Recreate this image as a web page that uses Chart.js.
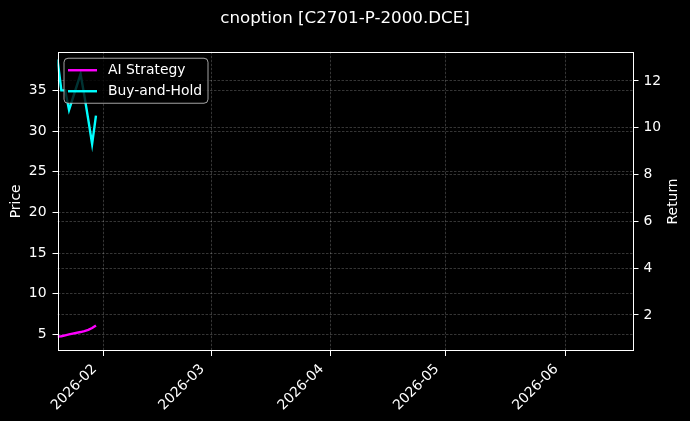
<!DOCTYPE html>
<html>
<head>
<meta charset="utf-8">
<title>cnoption</title>
<script src="https://cdn.jsdelivr.net/npm/chart.js@4.4.1/dist/chart.umd.min.js"></script>
<style>
  html, body { margin: 0; padding: 0; background: #000; }
  canvas { display: block; }
</style>
</head>
<body>
<canvas id="chart" width="690" height="421"></canvas>
<script>
// values
var dates = ["2026-01-20", "2026-01-21", "2026-01-22", "2026-01-23", "2026-01-26",
             "2026-01-27", "2026-01-28", "2026-01-29", "2026-01-30"];
var aiStrategy = [1.08, 1.09, 1.13, 1.17, 1.27, 1.31, 1.36, 1.44, 1.55];
var buyAndHold = [38.8, 35.0, 35.0, 32.6, 37.0, 34.3, 31.4, 28.4, 31.9];
var monthTicks = ["2026-02", "2026-03", "2026-04", "2026-05", "2026-06"];
var priceTicks = [5, 10, 15, 20, 25, 30, 35];
var returnTicks = [2, 4, 6, 8, 10, 12];
var xRange = ["2026-01-20", "2026-06-18"];
var priceRange = [2.95, 39.75];
var returnRange = [0.46, 13.25];

function day(s) {
	return Date.parse(s + "T00:00:00Z") / 86400000;
}

function points(vals) {
	return vals.map(function (v, i) { return { x: day(dates[i]), y: v }; });
}

var FONT = "'DejaVu Sans', sans-serif";
var GRID = "rgba(255,255,255,0.3)";

Chart.defaults.font.family = FONT;
Chart.defaults.font.size = 13.9;
Chart.defaults.color = "#ffffff";

// top spine, legend box and right axis label
var decor = {
	id: "decor",
	afterDatasetsDraw: function (chart) {
		var ctx = chart.ctx, a = chart.chartArea;
		ctx.save();
		ctx.strokeStyle = "#ffffff";
		ctx.lineWidth = 1;
		ctx.strokeRect(Math.round(a.left) + 0.5, Math.round(a.top) + 0.5,
			Math.round(a.right - a.left) - 1, Math.round(a.bottom - a.top) - 1);

		// legend
		var bx = a.left + 6.5, by = a.top + 6.5, bw = 144, bh = 45, r = 4;
		ctx.beginPath();
		ctx.moveTo(bx + r, by);
		ctx.arcTo(bx + bw, by, bx + bw, by + bh, r);
		ctx.arcTo(bx + bw, by + bh, bx, by + bh, r);
		ctx.arcTo(bx, by + bh, bx, by, r);
		ctx.arcTo(bx, by, bx + bw, by, r);
		ctx.closePath();
		ctx.fillStyle = "rgba(0,0,0,0.8)";
		ctx.fill();
		ctx.strokeStyle = "rgba(204,204,204,0.8)";
		ctx.stroke();

		ctx.font = "13.9px " + FONT;
		ctx.textBaseline = "middle";
		ctx.textAlign = "left";
		chart.data.datasets.forEach(function (ds, i) {
			var y = by + 12 + i * 21;
			ctx.strokeStyle = ds.borderColor;
			ctx.lineWidth = 2.4;
			ctx.beginPath();
			ctx.moveTo(bx + 4, y);
			ctx.lineTo(bx + 33, y);
			ctx.stroke();
			ctx.fillStyle = "#ffffff";
			ctx.fillText(ds.label, bx + 44, y);
		});

		// right axis title, reads bottom to top
		ctx.translate(673, (a.top + a.bottom) / 2);
		ctx.rotate(-Math.PI / 2);
		ctx.textAlign = "center";
		ctx.fillText("Return", 0, 0);
		ctx.restore();
	}
};

new Chart(document.getElementById("chart"), {
	type: "line",
	data: {
		datasets: [
			{
				label: "AI Strategy",
				data: points(aiStrategy),
				borderColor: "#ff00ff",
				borderWidth: 2.4,
				pointRadius: 0,
				tension: 0,
				yAxisID: "y1"
			},
			{
				label: "Buy-and-Hold",
				data: points(buyAndHold),
				borderColor: "#00ffff",
				borderWidth: 2.4,
				pointRadius: 0,
				tension: 0,
				yAxisID: "y"
			}
		]
	},
	options: {
		responsive: false,
		animation: false,
		devicePixelRatio: 1,
		layout: { padding: 0 },
		plugins: {
			legend: { display: false },
			tooltip: { enabled: false },
			title: {
				display: true,
				text: "cnoption [C2701-P-2000.DCE]",
				color: "#ffffff",
				font: { size: 16.7, weight: "normal" },
				padding: { top: 8.3, bottom: 23.4 }
			}
		},
		scales: {
			x: {
				type: "linear",
				min: day(xRange[0]),
				max: day(xRange[1]) + 0.75,
				afterBuildTicks: function (scale) {
					scale.ticks = monthTicks.map(function (m) { return { value: day(m + "-01") }; });
				},
				afterFit: function (scale) { scale.height = 70; },
				ticks: {
					autoSkip: false,
					minRotation: 45,
					maxRotation: 45,
					padding: 5,
					labelOffset: -9,
					callback: function (v, i) { return monthTicks[i]; }
				},
				grid: { color: GRID, lineWidth: 0.7, tickColor: "#ffffff", tickWidth: 1, tickLength: 5, tickBorderDash: [] },
				border: { display: false, dash: [2.5, 1.5] }
			},
			y: {
				position: "left",
				min: priceRange[0],
				max: priceRange[1],
				afterBuildTicks: function (scale) {
					scale.ticks = priceTicks.map(function (v) { return { value: v }; });
				},
				afterFit: function (scale) { scale.width = 57.5; },
				title: { display: true, text: "Price", padding: { top: 7.7, bottom: 0 } },
				ticks: { padding: 6 },
				grid: { color: GRID, lineWidth: 0.7, tickColor: "#ffffff", tickWidth: 1, tickLength: 5, tickBorderDash: [] },
				border: { display: false, dash: [2.5, 1.5] }
			},
			y1: {
				position: "right",
				min: returnRange[0],
				max: returnRange[1],
				afterBuildTicks: function (scale) {
					scale.ticks = returnTicks.map(function (v) { return { value: v }; });
				},
				afterFit: function (scale) { scale.width = 56.5; },
				ticks: { padding: 5 },
				grid: { color: GRID, lineWidth: 0.7, tickColor: "#ffffff", tickWidth: 1, tickLength: 5, tickBorderDash: [] },
				border: { display: false, dash: [2.5, 1.5] }
			}
		}
	},
	plugins: [decor]
});
</script>
</body>
</html>
